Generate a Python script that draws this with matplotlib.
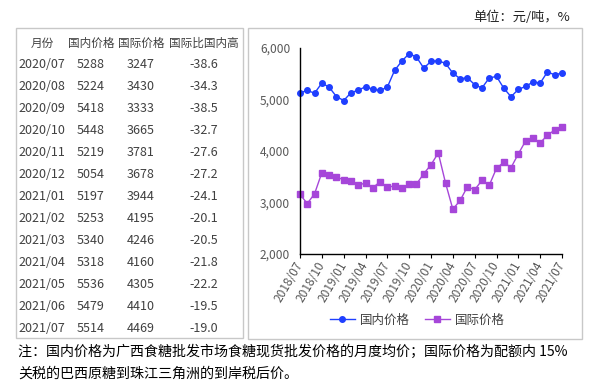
import numpy as np
import pandas as pd
import matplotlib
matplotlib.use('Agg')
import matplotlib.pyplot as plt
from matplotlib.patches import Rectangle
from matplotlib.ticker import FuncFormatter

plt.rcParams['font.family'] = ['Noto Sans CJK SC', 'DejaVu Sans']

# monthly series 2018/07 - 2021/07
months = [p.strftime('%Y/%m') for p in pd.period_range('2018-07', '2021-07', freq='M')]
domestic = [5130, 5175, 5123, 5318, 5240, 5058, 4980, 5130, 5182, 5247,
            5200, 5175, 5240, 5565, 5747, 5890, 5825, 5610, 5740, 5753,
            5700, 5513, 5403, 5422,
            5288, 5224, 5418, 5448, 5219, 5054, 5197, 5253, 5340, 5318,
            5536, 5479, 5514]
international = [3156, 2980, 3169, 3578, 3539, 3494, 3442, 3416, 3331, 3383,
                 3286, 3403, 3292, 3325, 3273, 3357, 3357, 3558, 3734, 3961,
                 3377, 2870, 3039, 3305,
                 3247, 3430, 3333, 3665, 3781, 3678, 3944, 4195, 4246, 4160,
                 4305, 4410, 4469]
ratio = [-38.6, -34.3, -38.5, -32.7, -27.6, -27.2, -24.1, -20.1, -20.5,
         -21.8, -22.2, -19.5, -19.0]
table_months = months[-13:]
headers = ['月份', '国内价格', '国际价格', '国际比国内高']

W, H = 608, 384
def fx(x):
    return x / W
def fy(y):
    return 1 - y / H

fig = plt.figure(figsize=(W / 100, H / 100), dpi=100)

# boxes around table and chart
fig.patches.append(Rectangle((fx(16), fy(338)), (243 - 16) / W, (338 - 28) / H,
                             transform=fig.transFigure, fill=False, ec='#c8c8c8', lw=1))
fig.patches.append(Rectangle((fx(248), fy(339)), (582 - 248) / W, (339 - 28) / H,
                             transform=fig.transFigure, fill=False, ec='#c8c8c8', lw=1))

# table
cols = [42, 91, 141, 204]
tcol = '#404040'
for cx, h in zip(cols, headers):
    fig.text(fx(cx), fy(43), h, ha='center', va='center', fontsize=8.4, color=tcol)
for i in range(len(table_months)):
    y = 64.3 + i * 22
    row = [table_months[i], str(domestic[-13 + i]), str(international[-13 + i]), '%.1f' % ratio[i]]
    for cx, v in zip(cols, row):
        fig.text(fx(cx), fy(y), v, ha='center', va='center', fontsize=9, color=tcol)

# chart
ax = fig.add_axes([fx(300), fy(254), (562 - 300) / W, (254 - 48) / H])
x = np.arange(len(months))
l1, = ax.plot(x, domestic, color='#1f3fff', marker='o', ms=4, lw=1, clip_on=False, label='国内价格')
l2, = ax.plot(x, international, color='#a646d9', marker='s', ms=3.8, lw=1, clip_on=False, label='国际价格')
ax.set_xlim(0, 36)
ax.set_ylim(2000, 6000)
ax.set_yticks([2000, 3000, 4000, 5000, 6000])
ax.yaxis.set_major_formatter(FuncFormatter(lambda v, p: '{:,.0f}'.format(v)))
ax.set_xticks(x[::3])
ax.set_xticklabels(months[::3], rotation=60, ha='right', va='center', rotation_mode='anchor')
for s in ['top', 'right']:
    ax.spines[s].set_visible(False)
for s in ['left', 'bottom']:
    ax.spines[s].set_color('black')
    ax.spines[s].set_linewidth(1)
ax.tick_params(axis='y', length=0, pad=7, labelsize=8.6, labelcolor='#595959')
ax.tick_params(axis='x', length=3, width=0.8, pad=3, labelsize=8.6, labelcolor='#595959')

leg = fig.legend([l1, l2], ['国内价格', '国际价格'], loc='center',
                 bbox_to_anchor=(fx(417), fy(320)), ncol=2, frameon=False,
                 fontsize=9, handlelength=2, columnspacing=1.2, handletextpad=0.4)
for t in leg.get_texts():
    t.set_color(tcol)

# unit and note
fig.text(fx(570), fy(17), '单位：元/吨，%', ha='right', va='center', fontsize=9.5, color='#222222')
fig.text(fx(18), fy(352), '注：国内价格为广西食糖批发市场食糖现货批发价格的月度均价；国际价格为配额内 15%',
         ha='left', va='center', fontsize=10.1, color='black')
fig.text(fx(18), fy(374), '关税的巴西原糖到珠江三角洲的到岸税后价。',
         ha='left', va='center', fontsize=10.1, color='black')

fig.savefig('out.png', dpi=100)
